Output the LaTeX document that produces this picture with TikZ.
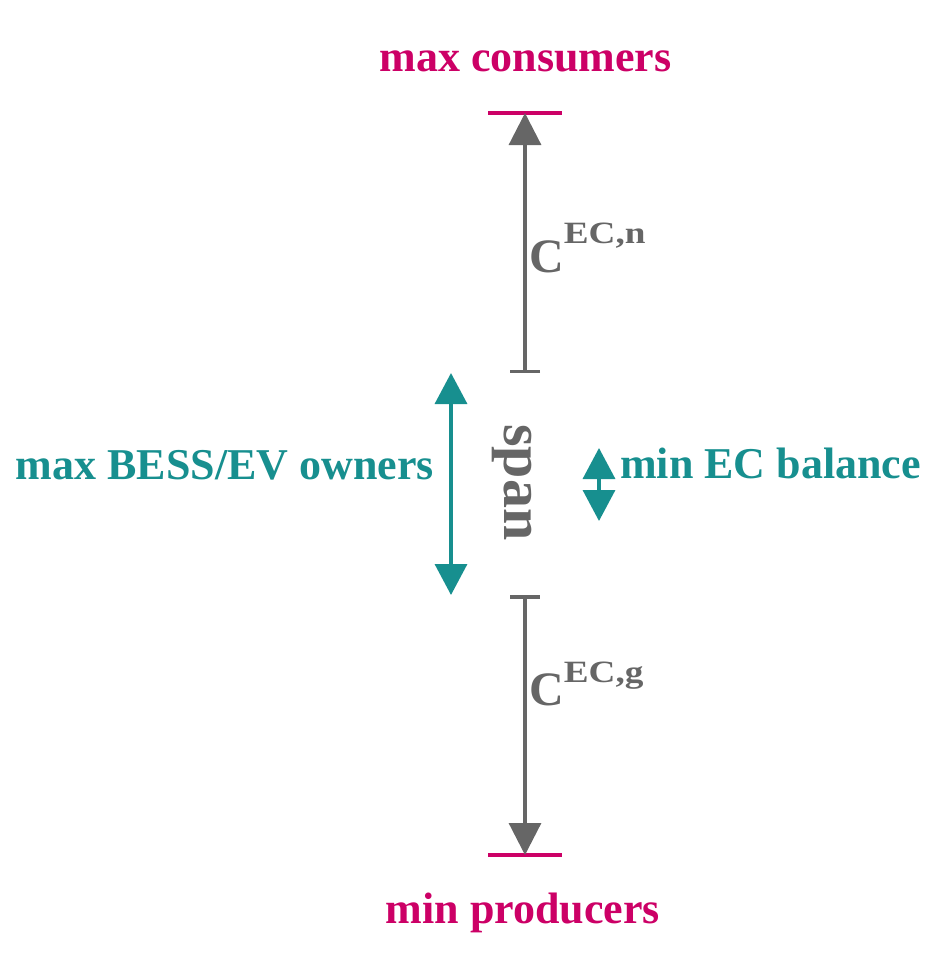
\documentclass[tikz,border=0pt]{standalone}
\usepackage{fontspec}
\usepackage{graphicx}
\setmainfont{Liberation Serif}
\usetikzlibrary{arrows.meta}
\definecolor{mag}{RGB}{204,0,102}
\definecolor{tealc}{RGB}{23,143,143}
\definecolor{gry}{RGB}{102,102,102}
\begin{document}
\begin{tikzpicture}[x=1pt,y=-1pt,
  lbl/.style={inner sep=0pt, font=\bfseries\fontsize{44}{48}\selectfont},
  clbl/.style={inner sep=0pt, text=gry, font=\bfseries\fontsize{48}{52}\selectfont},
  limitline/.style={draw=mag, line width=4pt},
  grayarrow/.style={draw=gry, line width=3.2pt, {Bar[width=30pt,line width=3.5pt]}-{Triangle[length=32pt,width=32pt]}},
  tealarrow/.style={draw=tealc, line width=3.5pt, {Triangle[length=31pt,width=32pt]}-{Triangle[length=31pt,width=32pt]}},
]
\useasboundingbox (0,0) rectangle (947,978);
% limits
\coordinate (tl) at (488,113); \coordinate (tr) at (562,113);
\coordinate (bl) at (488,855); \coordinate (br) at (562,855);
\draw[limitline] (tl) -- (tr);
\draw[limitline] (bl) -- (br);
% gray arrows
\coordinate (ntop) at (525,113); \coordinate (nbot) at (525,373);
\coordinate (gtop) at (525,595); \coordinate (gbot) at (525,855);
\draw[grayarrow] (nbot) -- (ntop);
\draw[grayarrow] (gtop) -- (gbot);
% teal arrows
\coordinate (bt) at (451,373); \coordinate (bb) at (451,595);
\coordinate (st) at (599,448); \coordinate (sb) at (599,521);
\draw[tealarrow] (bt) -- (bb);
\draw[tealarrow] (st) -- (sb);
% labels
\node[lbl, text=mag, anchor=base] (maxc) at (525.5,71) {max consumers};
\node[lbl, text=mag, anchor=base] (minp) at (523,923) {min producers};
\node[lbl, text=tealc, anchor=base east] (bess) at (434,479) {max BESS/EV owners};
\node[lbl, text=tealc, anchor=base west] (ecb) at (620,478) {min EC balance};
\node[lbl, text=gry, anchor=base west, rotate=-90, font=\bfseries\fontsize{58}{60}\selectfont] (span) at (504,424) {span};
\node[clbl, anchor=base west] (cn) at (529,272) {C\raisebox{29pt}{\fontsize{31}{33}\selectfont\scalebox{1.2}[1]{EC,n}}};
\node[clbl, anchor=base west] (cg) at (529,705) {C\raisebox{23pt}{\fontsize{31}{33}\selectfont\scalebox{1.2}[1]{EC,g}}};
\end{tikzpicture}
\end{document}
